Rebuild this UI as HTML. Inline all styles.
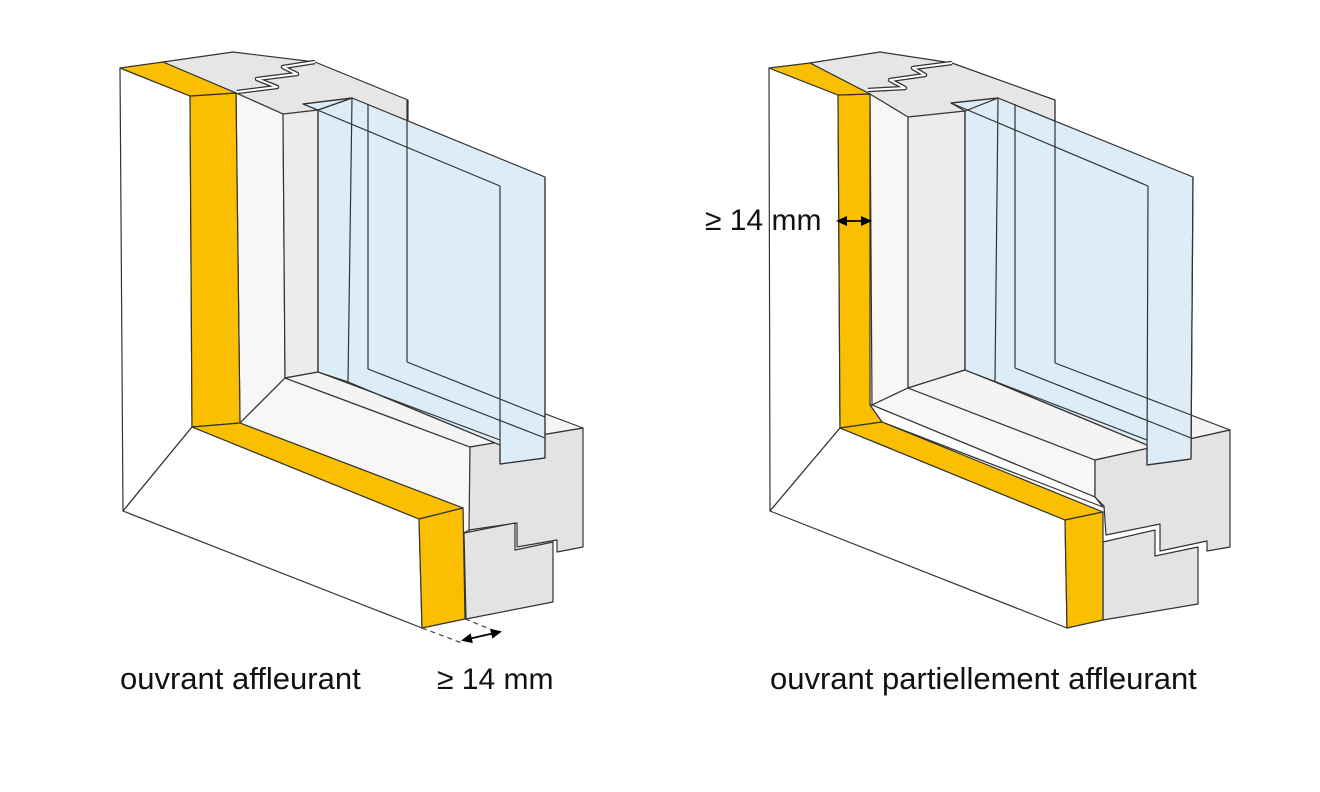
<!DOCTYPE html>
<html><head><meta charset="utf-8"><style>
html,body{margin:0;padding:0;background:#fff;}
svg{display:block}
text{font-family:"Liberation Sans",sans-serif;fill:#111;font-size:31px}
</style></head><body>
<svg width="1320" height="792" viewBox="0 0 1320 792" xmlns="http://www.w3.org/2000/svg">
<defs>
<marker id="ah" markerWidth="11" markerHeight="10" refX="8" refY="5" orient="auto-start-reverse" markerUnits="userSpaceOnUse"><path d="M0,0 L11,5 L0,10 z" fill="#000"/></marker>
</defs>
<g stroke="#333" stroke-width="1.2" stroke-linejoin="round">
<!-- LEFT DRAWING -->
<polygon points="120,68 190,96 192,427 123,511" fill="#fff"/>
<polygon points="123,511 192,427 419,519 422,628" fill="#fff"/>
<polygon points="163,62 233,52 315,62 408,100 408,362 318,372 285,378 283,114 236,93" fill="#e6e6e6"/>
<polygon points="236,93 283,114 285,378 240,423" fill="#f7f7f7"/>
<polygon points="283,114 318,110 318,372 285,378" fill="#ececec"/>
<polygon points="240,423 285,378 470,447 470,530 463,533 463,508" fill="#f7f7f7"/>
<polygon points="285,378 318,372 407,362 583,428 470,447" fill="#f4f4f4"/>
<polygon points="470,447 583,428 583,547 557,552 557,540 517,547 517,523 469,530" fill="#e3e3e3"/>
<polygon points="464,533 515,523 515,550 553,542 553,602 466,619" fill="#e3e3e3"/>
<polygon points="318,110 352,98 545,177 545,458 500,464 500,445 348,382 318,372" fill="#dcedf8"/>
<polygon points="303,104 352,98 318,110" fill="#dcedf8"/>
<line x1="318" y1="110" x2="318" y2="372"/>
<line x1="352" y1="98" x2="348" y2="382"/>
<line x1="368" y1="104" x2="368" y2="369"/>
<line x1="407" y1="100" x2="407" y2="362"/>
<line x1="303" y1="104" x2="352" y2="98"/>
<line x1="303" y1="104" x2="500" y2="186"/>
<line x1="500" y1="186" x2="500" y2="464"/>
<line x1="545" y1="177" x2="545" y2="458"/>
<line x1="500" y1="464" x2="545" y2="458"/>
<line x1="318" y1="372" x2="500" y2="440"/>
<line x1="348" y1="382" x2="500" y2="445"/>
<line x1="368" y1="369" x2="545" y2="438"/>
<line x1="407" y1="362" x2="545" y2="417"/>
<polygon points="190,96 236,93 240,423 192,427" fill="#f9bf00"/>
<polygon points="120,68 163,62 236,93 190,96" fill="#f9bf00"/>
<polygon points="192,427 240,423 463,508 419,519" fill="#f9bf00"/>
<polygon points="419,519 463,508 465,619 422,628" fill="#f9bf00"/>
<polyline points="237,92 277,87 257,79 297,74 283,67 315,62" fill="none" stroke="#333" stroke-width="4.5"/>
<polyline points="237,92 277,87 257,79 297,74 283,67 315,62" fill="none" stroke="#fff" stroke-width="2"/>
<line x1="422" y1="628" x2="462" y2="643" stroke-dasharray="5,4" stroke="#444"/>
<line x1="465" y1="619" x2="500" y2="633" stroke-dasharray="5,4" stroke="#444"/>
<line x1="464" y1="640" x2="499" y2="632" stroke="#000" stroke-width="1.8" marker-start="url(#ah)" marker-end="url(#ah)"/>

<!-- RIGHT DRAWING -->
<polygon points="769,68 838,95 840,428 770,511" fill="#fff"/>
<polygon points="770,511 840,428 1065,520 1067,628" fill="#fff"/>
<polygon points="810,63 880,52 952,63 1055,100 1055,363 965,370 908,388 908,117 872,103 870,94" fill="#e6e6e6"/>
<polygon points="870,94 908,117 908,388 872,405" fill="#f7f7f7"/>
<polygon points="908,117 965,111 965,370 908,388" fill="#ececec"/>
<polygon points="872,405 908,388 1095,460 1095,497" fill="#f7f7f7"/>
<polygon points="908,388 965,370 1055,363 1230,430 1095,460" fill="#f4f4f4"/>
<polygon points="872,405 1095,497 1103,507 882,422 870,405" fill="#fff"/>
<polygon points="1095,460 1230,430 1230,547 1207,551 1207,541 1160,551 1160,524 1106,535 1104,506 1095,497" fill="#e3e3e3"/>
<polygon points="1103,542 1155,530 1155,556 1198,547 1198,604 1103,620" fill="#e3e3e3"/>
<polygon points="965,111 998,98 1193,177 1191,459 1147,465 1147,445 995,382 965,370" fill="#dcedf8"/>
<polygon points="951,103 998,98 965,111" fill="#dcedf8"/>
<line x1="965" y1="111" x2="965" y2="370"/>
<line x1="998" y1="98" x2="995" y2="382"/>
<line x1="1015" y1="104" x2="1015" y2="368"/>
<line x1="1055" y1="100" x2="1055" y2="363"/>
<line x1="951" y1="103" x2="998" y2="98"/>
<line x1="951" y1="103" x2="1148" y2="186"/>
<line x1="1148" y1="186" x2="1147" y2="465"/>
<line x1="1193" y1="177" x2="1191" y2="459"/>
<line x1="1147" y1="465" x2="1191" y2="459"/>
<line x1="965" y1="370" x2="1147" y2="440"/>
<line x1="995" y1="382" x2="1147" y2="445"/>
<line x1="1015" y1="368" x2="1191" y2="438"/>
<line x1="1055" y1="363" x2="1191" y2="415"/>
<polygon points="838,95 870,94 870,405 882,422 840,428" fill="#f9bf00"/>
<polygon points="769,68 810,63 870,94 838,95" fill="#f9bf00"/>
<polygon points="840,428 882,422 1103,512 1065,520" fill="#f9bf00"/>
<polygon points="1065,520 1103,512 1103,620 1067,628" fill="#f9bf00"/>
<polyline points="868,90 905,88 890,80 925,75 913,68 952,63" fill="none" stroke="#333" stroke-width="4.5"/>
<polyline points="868,90 905,88 890,80 925,75 913,68 952,63" fill="none" stroke="#fff" stroke-width="2"/>
<line x1="839" y1="221" x2="869" y2="221" stroke="#000" stroke-width="1.8" marker-start="url(#ah)" marker-end="url(#ah)"/>
</g>
<text x="120" y="689">ouvrant affleurant</text>
<text x="437" y="689" style="font-size:30px">≥ 14 mm</text>
<text x="705" y="230" style="font-size:30px">≥ 14 mm</text>
<text x="770" y="689">ouvrant partiellement affleurant</text>
</svg>
</body></html>
